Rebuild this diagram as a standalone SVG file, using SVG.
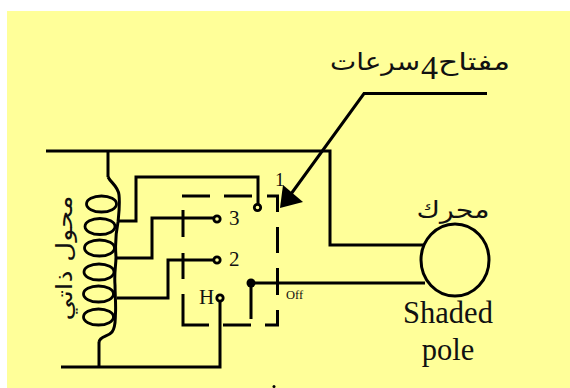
<svg xmlns="http://www.w3.org/2000/svg" width="570" height="388" viewBox="0 0 570 388">
<style>
.w{fill:none;stroke:#000;stroke-width:3;stroke-linejoin:miter}
.t{fill:none;stroke:#000;stroke-width:2.800}
.c{fill:#ffff99;stroke:#000;stroke-width:2.800}
.s{font-family:"Liberation Serif",serif;fill:#111}
.a{font-family:"DejaVu Sans",sans-serif;fill:#111}
</style>
<rect width="570" height="388" fill="#fff"/>
<rect x="7" y="11" width="563" height="377" fill="#ffff99"/>
<g id="connectors">
<path class="w" d="M46 151H330V245H424"/>
<path class="w" d="M108 151V177"/>
<path class="w" d="M61 367H220V298"/>
<path class="w" d="M99 342V367"/>
<path class="w" d="M118 221H136V177H258V205"/>
<path class="w" d="M117 258H152V218H216"/>
<path class="w" d="M117 298H168V260H216"/>
<path class="w" d="M251 319V283H425"/>
<path class="w" d="M487 93.500H364L291 194"/>
<path d="M280 208L283 185L303 202Z" fill="#000"/>
</g>
<g id="switch-box">
<path class="w" d="M182 196H210M224 196H252M267 196H277.500V212M277.500 227V253M277.500 268V295M277.500 310V325H265M251 325H223M209 325H183V294M183 279V253M183 237V210"/>
</g>
<g id="transformer">
<path class="w" d="M108 177C111 183 118 186 119 195C120 205 119 212 118 222C116 232 115 245 116 257C116 265 114 273 115 285C115 295 116 303 115.500 313C115 320 116 327 112 332C108 337 100 336 99 342"/>
<ellipse class="t" cx="101.500" cy="204" rx="15" ry="8"/>
<ellipse class="t" cx="100" cy="226.500" rx="15" ry="8"/>
<ellipse class="t" cx="99.500" cy="248" rx="15" ry="8"/>
<ellipse class="t" cx="99" cy="272" rx="15" ry="8"/>
<ellipse class="t" cx="98.500" cy="294" rx="15" ry="8"/>
<ellipse class="t" cx="98.500" cy="317" rx="15" ry="8"/>
<text class="a" transform="translate(72 258) rotate(-90)" text-anchor="middle" font-size="22" textLength="125" lengthAdjust="spacingAndGlyphs" direction="rtl">محول ذاتي</text>
</g>
<g id="contact-1"><circle class="c" cx="257.500" cy="207.500" r="3.200"/><text class="s" x="275" y="186" font-size="19">1</text></g>
<g id="contact-3"><circle class="c" cx="217" cy="219" r="3.200"/><text class="s" x="229" y="225" font-size="21">3</text></g>
<g id="contact-2"><circle class="c" cx="217" cy="260" r="3.200"/><text class="s" x="229" y="266" font-size="21">2</text></g>
<g id="contact-h"><circle class="c" cx="220" cy="298" r="3.200"/><text class="s" x="199" y="304" font-size="21">H</text></g>
<g id="contact-off"><circle cx="251" cy="283" r="4.500" fill="#000"/><text class="s" x="286" y="299" font-size="12.500">Off</text></g>
<g id="motor">
<ellipse cx="455" cy="260" rx="34" ry="36" fill="#ffff99" stroke="#000" stroke-width="3"/>
<text class="a" x="453" y="218" text-anchor="middle" font-size="24" textLength="73" lengthAdjust="spacingAndGlyphs" direction="rtl">محرك</text>
<text class="s" x="448" y="323" text-anchor="middle" font-size="30.500">Shaded</text>
<text class="s" x="448" y="360" text-anchor="middle" font-size="30.500">pole</text>
</g>
<g id="switch-label">
<text class="a" x="510" y="70" font-size="24" textLength="72" lengthAdjust="spacingAndGlyphs" direction="rtl">مفتاح</text>
<text class="s" x="421" y="79" font-size="34">4</text>
<text class="a" x="420" y="70" font-size="24" textLength="90" lengthAdjust="spacingAndGlyphs" direction="rtl">سرعات</text>
</g>
<circle cx="274" cy="386.500" r="1.500" fill="#000"/>
</svg>
